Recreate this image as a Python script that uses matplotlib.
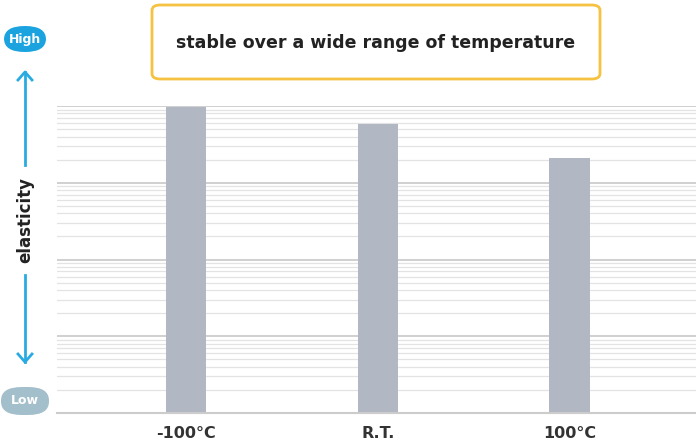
import numpy as np
import matplotlib.pyplot as plt
from matplotlib.patches import FancyBboxPatch
from matplotlib.ticker import LogLocator, NullFormatter

categories = ['-100°C', 'R.T.', '100°C']
values = [9800, 5900, 2100]

W, H = 696, 445
fig = plt.figure(figsize=(W / 100, H / 100), dpi=100)
ax = fig.add_axes([57 / W, 1 - 413 / H, (696 - 57) / W, (413 - 106) / H])

x = np.arange(len(categories))
ax.bar(x, values, width=0.21, color='#b1b7c3', zorder=2)
ax.set_yscale('log')
ax.set_ylim(1, 1e4)
ax.set_xlim(-0.674, 2.66)
ax.yaxis.set_major_locator(LogLocator(base=10))
ax.yaxis.set_minor_locator(LogLocator(base=10, subs=np.arange(2, 10)))
ax.yaxis.set_minor_formatter(NullFormatter())
ax.grid(True, which='major', axis='y', color='#c8c8c8', lw=1.2, zorder=0)
ax.grid(True, which='minor', axis='y', color='#e3e3e3', lw=0.9, zorder=0)
ax.tick_params(axis='y', which='both', length=0, labelleft=False)
ax.tick_params(axis='x', length=0, pad=9)
ax.set_xticks(x)
ax.set_xticklabels(categories, fontsize=11.5, fontweight='bold', color='#333333')
for s in ['top', 'right', 'left']:
    ax.spines[s].set_visible(False)
ax.spines['bottom'].set_color('#cccccc')
ax.spines['bottom'].set_linewidth(1.5)

def fx(px):
    return px / W

def fy(py):
    return 1 - py / H

# title box
fig.patches.append(FancyBboxPatch((fx(152), fy(79)), fx(448), 74 / H,
                                  boxstyle='round,pad=0,rounding_size=0.012',
                                  transform=fig.transFigure, fc='white',
                                  ec='#f5c242', lw=2))
fig.text(fx(376), fy(43), 'stable over a wide range of temperature',
         ha='center', va='center', fontsize=12.5, fontweight='bold', color='#222222')

# High / Low pills
fig.patches.append(FancyBboxPatch((fx(4), fy(52)), fx(42), 26 / H,
                                  boxstyle='round,pad=0,rounding_size=0.03',
                                  transform=fig.transFigure, fc='#1aa3df', ec='none'))
fig.text(fx(25), fy(39), 'High', ha='center', va='center', fontsize=9,
         fontweight='bold', color='white')
fig.patches.append(FancyBboxPatch((fx(1), fy(415)), fx(48), 28 / H,
                                  boxstyle='round,pad=0,rounding_size=0.03',
                                  transform=fig.transFigure, fc='#a4bfcc', ec='none'))
fig.text(fx(25), fy(401), 'Low', ha='center', va='center', fontsize=9,
         fontweight='bold', color='white')

# arrows
fig.add_artist(plt.Line2D([fx(25), fx(25)], [fy(72), fy(165)], color='#29abe2', lw=2))
fig.add_artist(plt.Line2D([fx(25), fx(25)], [fy(275), fy(362)], color='#29abe2', lw=2))
fig.add_artist(plt.Line2D([fx(18), fx(25), fx(32)], [fy(80), fy(72), fy(80)], color='#29abe2', lw=2))
fig.add_artist(plt.Line2D([fx(18), fx(25), fx(32)], [fy(354), fy(362), fy(354)], color='#29abe2', lw=2))
fig.text(fx(25), fy(220), 'elasticity', rotation=90, ha='center', va='center',
         fontsize=12, fontweight='bold', color='#222222')

fig.savefig('out.png', dpi=100)
